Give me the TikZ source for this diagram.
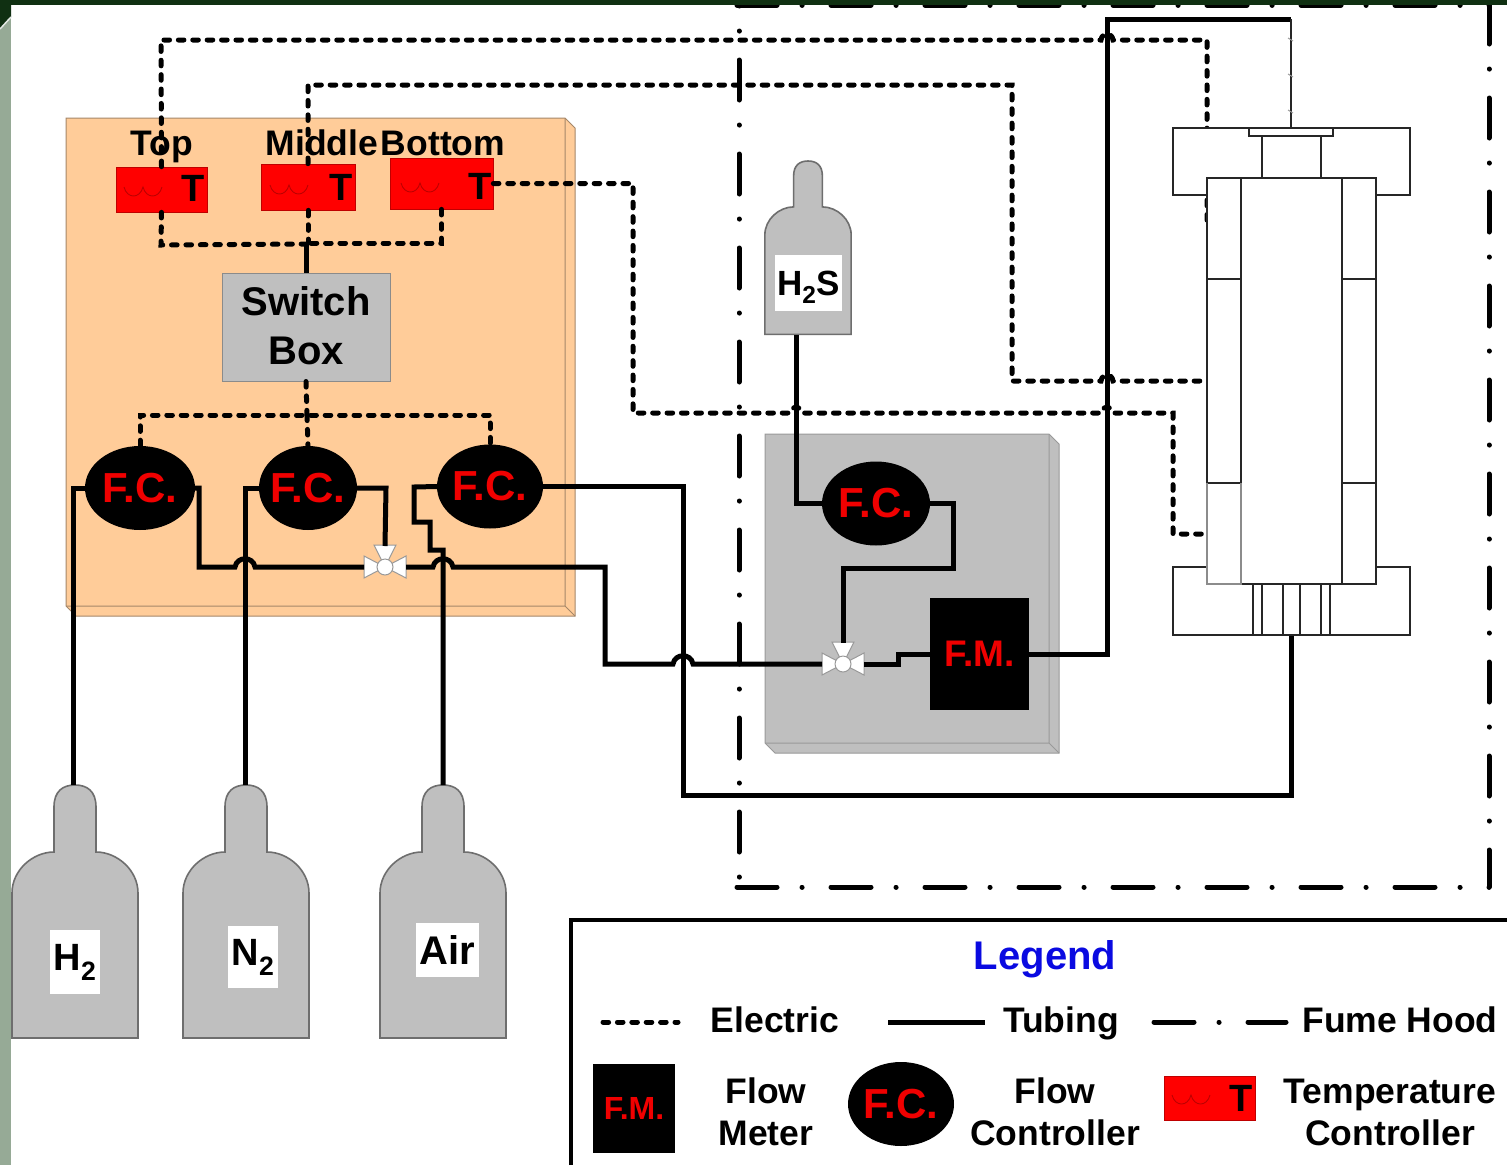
\documentclass[tikz,border=0pt]{standalone}
\usepackage{fontspec}
\setmainfont{Liberation Sans}
\usetikzlibrary{shapes.geometric}
\definecolor{panelorange}{RGB}{255,204,153}
\definecolor{panelline}{RGB}{165,135,105}
\definecolor{steel}{RGB}{191,191,191}
\definecolor{steelline}{RGB}{110,110,110}
\definecolor{tcred}{RGB}{255,0,0}
\definecolor{fcred}{RGB}{240,0,0}
\definecolor{coilred}{RGB}{190,0,0}
\definecolor{slide}{RGB}{16,48,18}
\definecolor{sage}{RGB}{150,170,150}
\definecolor{legendblue}{RGB}{10,10,225}
\tikzset{
  lab/.style={font=\bfseries\fontsize{35.5}{42}\selectfont,inner sep=0pt,align=center},
  elecline/.style={line width=5pt,line cap=round,dash pattern=on 5.6pt off 8.8pt},
  tube/.style={line width=5pt,line join=miter},
  hoodline/.style={line width=5pt,line cap=round,dash pattern=on 40pt off 25pt on 0.1pt off 28.9pt},
  tcbox/.style={fill=tcred,draw=red!75!black,line width=0.7pt,inner sep=0pt},
  fcnode/.style={ellipse,fill=black,text=fcred,inner sep=-8pt,font=\bfseries\fontsize{42}{42}\selectfont},
  fmnode/.style={fill=black,text=fcred,inner sep=0pt,font=\bfseries\fontsize{37}{37}\selectfont},
  greybox/.style={fill=steel,draw=steelline!80,line width=1pt,inner sep=0pt},
  bottlepart/.style={fill=steel,draw=steelline,line width=1.6pt},
  gaslab/.style={fill=white,inner sep=0pt,font=\bfseries\fontsize{38}{38}\selectfont},
  rpart/.style={fill=white,draw=black!85,line width=2.8pt,inner sep=0pt},
  rline/.style={draw=black!85,line width=2.8pt},
  valvepart/.style={fill=white,draw=black!40,line width=1pt},
}
\newcommand{\hopover}[2]{-- ({#1-10},#2) .. controls ({#1-8},{#2-11}) and ({#1+8},{#2-11}) .. ({#1+10},#2)}
\newcommand{\hopsmall}[2]{-- ({#1-6},#2) .. controls ({#1-5},{#2-8}) and ({#1+5},{#2-8}) .. ({#1+6},#2)}
\newcommand{\coil}[2]{\draw[coilred,line width=0.9pt] (#1,#2) .. controls ({#1+3},{#2+12}) and ({#1+16},{#2+12}) .. ({#1+19},#2) .. controls ({#1+22},{#2+12}) and ({#1+35},{#2+12}) .. ({#1+38},#2);}
\newcommand{\threeway}[3]{
  \begin{scope}[shift={(#2,#3)}]
    \draw[valvepart] (0,0) -- (-21,-11) -- (-21,11) -- cycle;
    \draw[valvepart] (0,0) -- (21,-11) -- (21,11) -- cycle;
    \draw[valvepart] (0,0) -- (-11,-22) -- (11,-22) -- cycle;
    \node[valvepart,circle,minimum size=16pt,inner sep=0pt] (#1) at (0,0) {};
    \coordinate (#1W) at (-21,0);
    \coordinate (#1E) at (21,0);
    \coordinate (#1N) at (0,-21);
  \end{scope}
}
\newcommand{\bottle}[4]{
  \draw[bottlepart,shift={(#2,#3)},scale=#4]
    (-63,253) -- (-63,108) .. controls (-63,85) and (-42,67) .. (-21,67)
    -- (-21,22) .. controls (-21,6) and (-12,0) .. (0,0)
    .. controls (12,0) and (21,6) .. (21,22) -- (21,67)
    .. controls (42,67) and (63,85) .. (63,108) -- (63,253) -- cycle;
  \coordinate (#1) at (#2,#3);
}

\begin{document}
\begin{tikzpicture}[x=1pt,y=-1pt]
  \useasboundingbox (0,0) rectangle (1507,1165);
  \fill[white] (0,0) rectangle (1507,1165);
  % slide border
  \fill[sage] (0,0) rectangle (11,1165);
  \fill[slide] (0,0) -- (11,0) -- (11,17) -- (0,29) -- cycle;
  \draw[white!75!sage,line width=1.5pt] (11,17) -- (0,29);
  % fume hood
  \coordinate (hoodTL) at (739,5);
  \coordinate (hoodTR) at (1489,5);
  \coordinate (hoodBL) at (739,887);
  \coordinate (hoodBR) at (1489,887);
  \draw[hoodline,dash phase=39pt] (hoodTL) -- (hoodBL);
  \draw[hoodline,dash phase=1pt] (hoodTR) -- (hoodBR);
  \draw[hoodline] (hoodBL) ++(-2,0) -- (hoodBR);
  \draw[hoodline] (hoodTL) ++(-2,0) -- (hoodTR);
  \fill[slide] (0,0) rectangle (1507,4.5);
  % panels
  \draw[fill=panelorange,draw=panelline,line width=1pt] (66,118) -- (565,118) -- (575,128) -- (575,616) -- (76,616) -- (66,606) -- cycle;
  \draw[draw=panelline,line width=1pt] (565,118) -- (565,606) -- (66,606) (565,606) -- (575,616);
  \draw[fill=steel,draw=steelline!70,line width=1pt] (765,434) -- (1049,434) -- (1059,444) -- (1059,753) -- (775,753) -- (765,743) -- cycle;
  \draw[draw=steelline!70,line width=1pt] (1049,434) -- (1049,743) -- (765,743) (1049,743) -- (1059,753);
  % temperature controllers
  \node[tcbox,minimum width=91pt,minimum height=45pt] (tcTop) at (161.5,189.5) {};
  \node[tcbox,minimum width=94pt,minimum height=46pt] (tcMid) at (308,187) {};
  \node[tcbox,minimum width=103pt,minimum height=51pt] (tcBot) at (441.5,183.5) {};
  \coil{124}{187}
  \coil{270}{185}
  \coil{401}{183}
  \node[greybox,lab,font=\bfseries\fontsize{40}{49}\selectfont,minimum width=168pt,minimum height=108pt] (swbox) at (306,327) {\raisebox{2pt}{Switch}\\\raisebox{2pt}{Box}};
  % flow controllers and meter
  \node[fcnode,minimum width=110pt,minimum height=84pt] (fcA) at (140,488) {F.C.};
  \node[fcnode,minimum width=98pt,minimum height=84pt] (fcB) at (308,488) {F.C.};
  \node[fcnode,minimum width=106pt,minimum height=84pt] (fcC) at (490,486.5) {F.C.};
  \node[fcnode,minimum width=108pt,minimum height=84pt] (fcD) at (876,503.5) {F.C.};
  \node[fmnode,minimum width=99pt,minimum height=112pt] (fmA) at (979.5,654) {F.M.};
  % electric lines
  \coordinate (elecOneEnd) at (1207,222);
  \coordinate (elecThreeEnd) at (1207,534);
  \draw[elecline] (tcTop.north) -- (161,40) \hopsmall{1107}{40} -- (1207,40) -- (elecOneEnd);
  \draw[elecline] (tcMid.north) -- (308,85) -- (1012,85) -- (1012,381) \hopsmall{1107}{381} -- (1207,381);
  \draw[elecline] (tcBot.east) -- (633,183.5) -- (633,413) \hopsmall{796}{413} \hopsmall{1107}{413} -- (1173,413) -- (1173,534) -- (elecThreeEnd);
  \draw[elecline] (tcTop.south) -- (161,245) -- (306,244);
  \draw[elecline] (tcBot.south) -- (441.5,243) -- (306,243);
  \draw[elecline] (tcMid.south) -- (308,243);
  \draw[tube] (306,244) -- (swbox.north);
  \draw[elecline] (swbox.south) -- (307,415);
  \draw[elecline] (fcA.north) -- (140,415) -- (490,415) -- (fcC.north);
  \draw[elecline] (307,415) -- (fcB.north);
  % reactor on top of the lines
  \node[rpart,minimum width=237pt,minimum height=67pt] (flangeTop) at (1291.5,161.5) {};
  \node[rpart,minimum width=84pt,minimum height=8pt] (rcap) at (1291,132) {};
  \node[rpart,minimum width=59pt,minimum height=42pt] (rneck) at (1291.5,157) {};
  \node[rpart,minimum width=237pt,minimum height=68pt] (flangeBot) at (1291.5,601) {};
  \node[rpart,minimum width=169pt,minimum height=406pt] (rbody) at (1291.5,381) {};
  \draw[rline] (1241,178) -- (1241,584) (1342,178) -- (1342,584);
  \draw[rline] (1207,279) -- (1241,279) (1342,279) -- (1376,279);
  \draw[rline] (1207,483) -- (1241,483) (1342,483) -- (1376,483);
  \draw[draw=black!45,line width=2.8pt] (1207,483) -- (1207,584) -- (1241,584) -- (1241,483);
  \foreach \xx in {1253,1262,1283,1300,1321,1330}
    \draw[rline] (\xx,584) -- (\xx,635);
  % bottles
  \bottle{btA}{75}{785}{1}
  \bottle{btB}{246}{785}{1}
  \bottle{btC}{443}{785}{1}
  \bottle{btD}{808}{161}{0.685}
  \coordinate (btDout) at (796,335);
  \node[gaslab,minimum width=50pt,minimum height=64pt] (gasA) at (75,962) {H\textsubscript{2}};
  \node[gaslab,minimum width=50pt,minimum height=62pt] (gasB) at (253,957) {N\textsubscript{2}};
  \node[gaslab,font=\bfseries\fontsize{40}{40}\selectfont,minimum width=63pt,minimum height=54pt] (gasC) at (447,950) {Air};
  \node[gaslab,font=\bfseries\fontsize{35}{35}\selectfont,text height=26pt,text depth=2pt,minimum width=67pt,minimum height=56pt] (gasD) at (808.5,283) {H\textsubscript{2}S};
  % valves
  \threeway{valveA}{385}{567}
  \threeway{valveB}{843}{664}
  % tubing
  \draw[tube] (73,785) -- (73,488) -- (fcA.west);
  \draw[tube] (245,785) -- (245,488) -- (fcB.west);
  \draw[tube] (443,785) -- (443,550) -- (430,550) -- (430,522) -- (414,522) -- (414,487) -- (fcC.west);
  \draw[tube] (fcA.east) -- (199,488) -- (199,567) \hopover{245}{567} -- (valveAW);
  \draw[tube] (fcB.east) -- (386,488) -- (valveAN);
  \draw[tube] (valveAE) \hopover{443}{567} -- (605,567) -- (605,664) \hopover{683}{664} -- (valveBW);
  \draw[tube] (btDout) -- (796,503.5) -- (fcD.west);
  \draw[tube] (fcD.east) -- (953,503.5) -- (953,568) -- (843,568) -- (valveBN);
  \draw[tube] (valveBE) -- (898,664) -- (898,654) -- (fmA.west);
  \draw[tube] (fmA.east) -- (1107,654) -- (1107,19) -- (1291,19);
  \draw[tube] (fcC.east) -| (683,795) -| (flangeBot.south);
  \draw[rline] (1291,19) -- (rcap.north);
  \foreach \yy in {38,74,110}
    \draw[black!40,line width=1pt] (1288,\yy) -- (1293,{\yy+3});
  % labels and the letter T
  \node[lab,anchor=base] (labTop) at (161.5,155.5) {Top};
  \node[lab,anchor=base] (labMid) at (322,155.5) {Middle};
  \node[lab,anchor=base] (labBot) at (443,155.5) {Bottom};
  \node[lab,font=\bfseries\fontsize{38}{38}\selectfont] (tTop) at (193,188) {T};
  \node[lab,font=\bfseries\fontsize{38}{38}\selectfont] (tMid) at (341,187) {T};
  \node[lab,font=\bfseries\fontsize{38}{38}\selectfont] (tBot) at (480,186) {T};
  % legend
  \draw[line width=4pt] (571,1165) -- (571,919.5) -- (1507,919.5);
  \node[lab,anchor=base,text=legendblue,font=\bfseries\fontsize{40}{40}\selectfont] (legTitle) at (1045,969) {Legend};
  \coordinate (legElecA) at (603,1022);
  \coordinate (legElecB) at (678,1022);
  \coordinate (legTubeA) at (888,1022);
  \coordinate (legTubeB) at (985,1022);
  \coordinate (legHoodA) at (1154,1022);
  \coordinate (legHoodB) at (1286,1022);
  \draw[elecline] (legElecA) -- (legElecB);
  \draw[tube] (legTubeA) -- (legTubeB);
  \draw[hoodline] (legHoodA) -- (legHoodB);
  \node[lab,anchor=base] (legElec) at (775,1032) {Electric};
  \node[lab,anchor=base] (legTube) at (1061,1032) {Tubing};
  \node[lab,anchor=base] (legHood) at (1400,1032) {Fume Hood};
  \node[fmnode,font=\bfseries\fontsize{32}{32}\selectfont,minimum width=82pt,minimum height=89pt] (legFm) at (634,1108.5) {F.M.};
  \node[lab] (legFmText) at (766,1112) {Flow\\Meter};
  \node[fcnode,minimum width=106pt,minimum height=84pt] (legFc) at (901,1104) {F.C.};
  \node[lab] (legFcText) at (1055,1112) {Flow\\Controller};
  \node[tcbox,minimum width=91pt,minimum height=44pt] (legTc) at (1209.5,1098) {};
  \coil{1172}{1095}
  \node[lab,font=\bfseries\fontsize{38}{38}\selectfont] (legT) at (1241,1098) {T};
  \node[lab] (legTcText) at (1390,1112) {Temperature\\Controller};
\end{tikzpicture}
\end{document}
